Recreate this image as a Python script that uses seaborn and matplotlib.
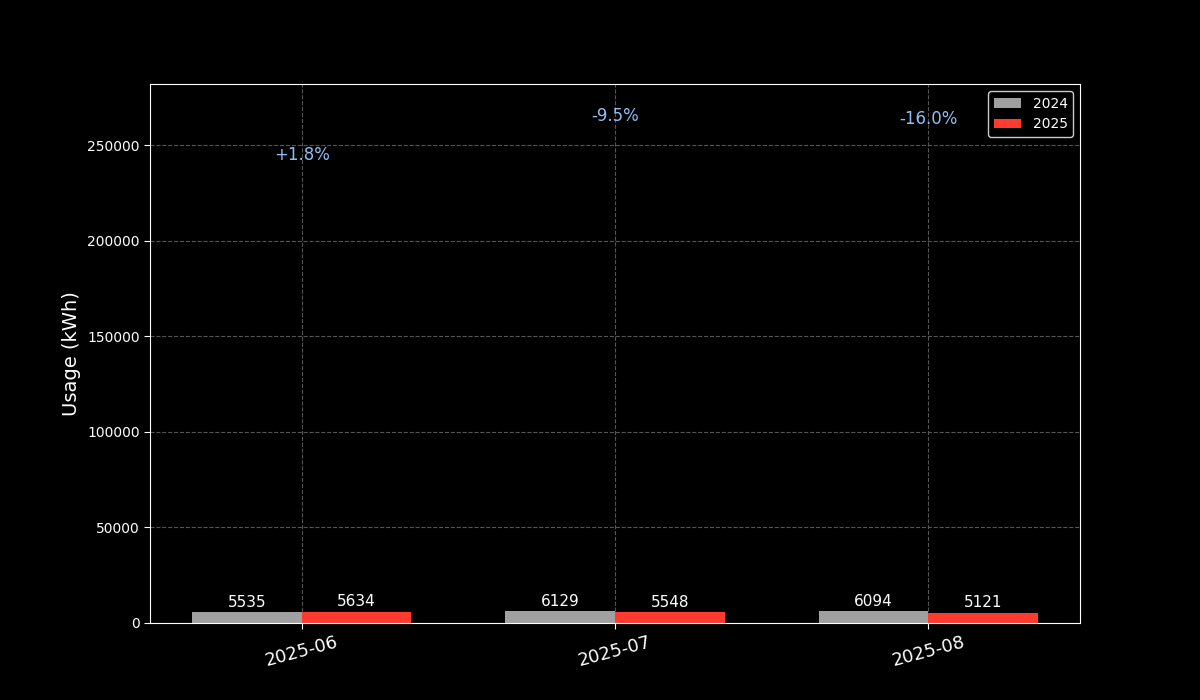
import pandas as pd
import matplotlib
matplotlib.use("Agg")
import matplotlib.pyplot as plt
import seaborn as sns

# Data
months = ["2025-06", "2025-07", "2025-08"]
usage_2024 = [5535, 6129, 6094]
usage_2025 = [5634, 5548, 5121]
pct_labels = ["+1.8%", "-9.5%", "-16.0%"]
pct_label_y = [245000, 265000, 263500]

df = pd.DataFrame({
    "month": months * 2,
    "usage": usage_2024 + usage_2025,
    "year": ["2024"] * len(months) + ["2025"] * len(months),
})

sns.set_style("dark")
plt.rcParams["font.family"] = ["DejaVu Sans"]

fig, ax = plt.subplots(figsize=(12, 7), dpi=100)
fig.patch.set_facecolor("black")
ax.set_facecolor("black")

sns.barplot(
    data=df, x="month", y="usage", hue="year",
    palette={"2024": "#a0a0a0", "2025": "#ff3b30"},
    width=0.7, saturation=1, linewidth=0, edgecolor="none", ax=ax,
)

for cont in ax.containers:
    ax.bar_label(cont, fmt="%d", color="white", fontsize=11, padding=2)

for i, (lab, yv) in enumerate(zip(pct_labels, pct_label_y)):
    ax.text(i, yv, lab, color="#90bdf5", fontsize=12, ha="center", va="center")

ax.set_xlim(-0.485, 2.485)
ax.set_ylim(0, 282000)
ax.set_xlabel("")
ax.set_ylabel("Usage (kWh)", color="white", fontsize=14)
ax.tick_params(axis="x", colors="white", labelsize=13, rotation=15)
ax.tick_params(axis="y", colors="white", labelsize=10)
ax.tick_params(axis="both", which="major", length=4, direction="out", left=True, bottom=True)
ax.grid(True, axis="both", color="#555555", linestyle="--", linewidth=0.8)
ax.set_axisbelow(True)
for s in ax.spines.values():
    s.set_color("white")
    s.set_linewidth(0.8)

leg = ax.legend(loc="upper right", facecolor="black", edgecolor="white", fontsize=10)
for t in leg.get_texts():
    t.set_color("white")
for h in leg.legend_handles:
    h.set_edgecolor("none")
leg.set_title(None)

fig.subplots_adjust(left=0.125, right=0.9, top=0.88, bottom=0.11)
fig.savefig("out.png", facecolor="black")
